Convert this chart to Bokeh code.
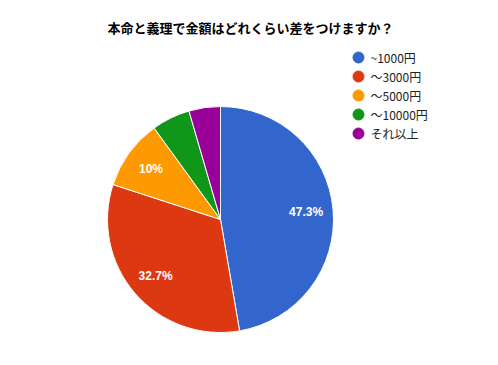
import math
from bokeh.plotting import figure
from bokeh.models import Range1d, ColumnDataSource
from bokeh.core.properties import value
from bokeh.embed import file_html
from bokeh.resources import INLINE

title = "本命と義理で金額はどれくらい差をつけますか？"
categories = ["~1000円", "～3000円", "～5000円", "～10000円", "それ以上"]
percents = [47.3, 32.7, 10.0, 5.5, 4.5]
colors = ["#3366cc", "#dc3912", "#ff9900", "#109618", "#990099"]

W, H = 482, 349
p = figure(width=W, height=H, output_backend="svg", toolbar_location=None,
           x_range=Range1d(0, W), y_range=Range1d(0, H), min_border=0)
p.axis.visible = False
p.grid.visible = False
p.outline_line_color = None
p.background_fill_color = "white"
p.border_fill_color = "white"

def Y(ty):
    return H - ty

cx, cy, R = 220, Y(219), 113
total = sum(percents)
starts, ends, mids = [], [], []
cum = 0.0
for v in percents:
    f0 = cum / total
    cum += v
    f1 = cum / total
    starts.append(math.pi / 2 - 2 * math.pi * f0)
    ends.append(math.pi / 2 - 2 * math.pi * f1)
    mids.append(math.pi / 2 - 2 * math.pi * (f0 + f1) / 2)

src = ColumnDataSource(dict(start=starts, end=ends, color=colors))
p.wedge(x=cx, y=cy, radius=R, start_angle="start", end_angle="end",
        direction="clock", fill_color="color", line_color="white",
        line_width=1, source=src)

# slice labels
lx, ly, lt = [], [], []
for v, m in zip(percents, mids):
    if v >= 7:
        r = 0.76 * R
        lx.append(cx + r * math.cos(m))
        ly.append(cy + r * math.sin(m))
        lt.append(f"{v:g}%")
p.text(x=lx, y=ly, text=lt, text_color="white", text_font_size="12px",
       text_font=value("Liberation Sans"), text_font_style="bold",
       text_align="center", text_baseline="middle")

# title
p.text(x=[107], y=[Y(27)], text=[title], text_font=value("Noto Sans CJK JP"),
       text_font_size="13px", text_font_style="bold", text_color="#000000",
       text_align="left", text_baseline="middle")

# legend
leg_y = [Y(57 + 19 * i) for i in range(len(categories))]
p.scatter(x=[358] * len(categories), y=leg_y, size=11, color=colors)
p.text(x=[370] * len(categories), y=leg_y, text=categories,
       text_font=value("Noto Sans CJK JP"), text_font_size="12px",
       text_color="#222222", text_align="left", text_baseline="middle")

open("out.html", "w").write(file_html(p, INLINE))
